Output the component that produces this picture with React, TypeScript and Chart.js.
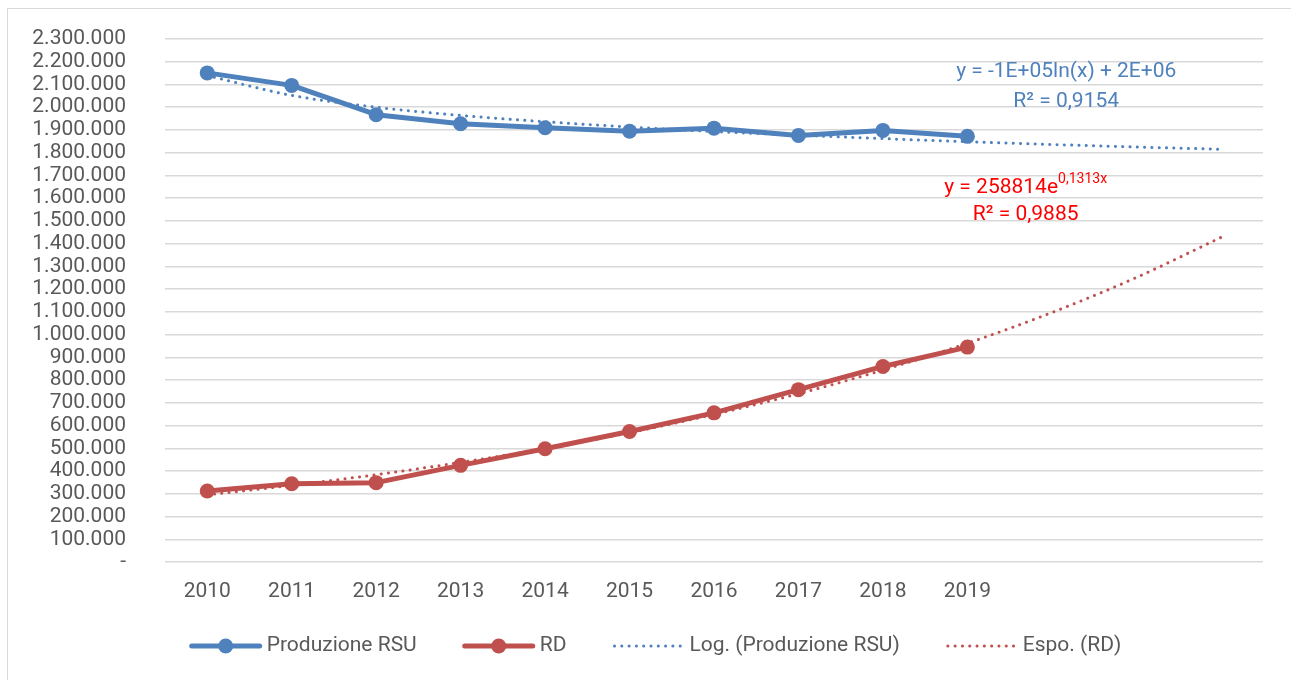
import React, { useEffect, useRef } from 'react';
import { Chart, registerables } from 'chart.js';

Chart.register(...registerables);

// ---------- data ----------
const categories = ['2010', '2011', '2012', '2013', '2014', '2015', '2016', '2017', '2018', '2019', '', '', ''];
const produzioneRSU = [2151000, 2096000, 1967000, 1927000, 1910000, 1894000, 1908000, 1876000, 1898000, 1872000];
const rd = [312000, 344000, 349000, 425000, 498000, 574000, 656000, 758000, 860000, 945000];
// trend lines (Excel forecast 3 periods forward)
const logTrend = [2139000, 2052000, 2000000, 1964000, 1936000, 1913000, 1893000, 1877000, 1862000, 1848000, 1836000, 1825000, 1815000];
const expTrend = [295000, 337000, 384000, 438000, 499000, 569000, 649000, 740000, 844000, 962000, 1097000, 1251000, 1427000];
const seriesLabels = ['Produzione RSU', 'RD', 'Log. (Produzione RSU)', 'Espo. (RD)'];
const yMax = 2300000;
const yStep = 100000;
const logEquation = 'y = -1E+05ln(x) + 2E+06';
const logR2 = 'R² = 0,9154';
const expEquationBase = 'y = 258814e';
const expEquationExp = '0,1313x';
const expR2 = 'R² = 0,9885';

// ---------- styles ----------
const BLUE = '#4F81BD';
const RED = '#C0504D';
const EQ_RED = '#FF0000';
const TEXT = '#595959';
const GRID = '#d9d9d9';
const FONT = 'Roboto';
const FS = 21;

function fmt(v: number): string {
  if (v === 0) return '-';
  return String(Math.round(v)).replace(/\B(?=(\d{3})+(?!\d))/g, '.');
}

const legendPlugin = {
  id: 'xlLegend',
  afterDraw(chart: any) {
    const ctx = chart.ctx as CanvasRenderingContext2D;
    ctx.save();
    ctx.font = `${FS}px ${FONT}`;
    const sampleW = 72;
    const gapST = 5;
    const itemGap = 46;
    const items = chart.data.datasets.map((ds: any) => ({
      ds,
      w: sampleW + gapST + ctx.measureText(ds.label).width,
    }));
    const total = items.reduce((a: number, b: any) => a + b.w, 0) + itemGap * (items.length - 1);
    let x = (chart.width - total) / 2 + 6;
    const y = chart.height - 34;
    items.forEach(({ ds, w }: any) => {
      ctx.strokeStyle = ds.borderColor;
      ctx.lineWidth = ds.borderWidth;
      ctx.lineCap = 'round';
      ctx.setLineDash(ds.borderDash ? ds.borderDash : []);
      ctx.beginPath();
      ctx.moveTo(x + 2, y);
      ctx.lineTo(x + sampleW - 2, y);
      ctx.stroke();
      ctx.setLineDash([]);
      if (ds.pointRadius > 0) {
        ctx.fillStyle = ds.borderColor;
        ctx.beginPath();
        ctx.arc(x + sampleW / 2, y, ds.pointRadius, 0, Math.PI * 2);
        ctx.fill();
      }
      ctx.fillStyle = TEXT;
      ctx.textBaseline = 'middle';
      ctx.textAlign = 'left';
      ctx.fillText(ds.label, x + sampleW + gapST, y);
      x += w + itemGap;
    });
    ctx.restore();
  },
};

const equationPlugin = {
  id: 'trendEquations',
  afterDatasetsDraw(chart: any) {
    const ctx = chart.ctx as CanvasRenderingContext2D;
    const xs = chart.scales.x;
    const ys = chart.scales.y;
    ctx.save();
    ctx.textBaseline = 'middle';
    ctx.textAlign = 'center';
    ctx.font = `${FS}px ${FONT}`;
    ctx.fillStyle = BLUE;
    ctx.fillText(logEquation, xs.getPixelForValue(10.17), ys.getPixelForValue(2155000));
    ctx.fillText(logR2, xs.getPixelForValue(10.17), ys.getPixelForValue(2023000));

    ctx.fillStyle = EQ_RED;
    const cx = xs.getPixelForValue(9.69);
    const cy = ys.getPixelForValue(1645000);
    ctx.font = `${FS}px ${FONT}`;
    const w1 = ctx.measureText(expEquationBase).width;
    ctx.font = `14px ${FONT}`;
    const w2 = ctx.measureText(expEquationExp).width;
    const start = cx - (w1 + w2) / 2;
    ctx.textAlign = 'left';
    ctx.font = `${FS}px ${FONT}`;
    ctx.fillText(expEquationBase, start, cy);
    ctx.font = `14px ${FONT}`;
    ctx.fillText(expEquationExp, start + w1, cy - 8);
    ctx.textAlign = 'center';
    ctx.font = `${FS}px ${FONT}`;
    ctx.fillText(expR2, cx, ys.getPixelForValue(1526000));
    ctx.restore();
  },
};

export default function App() {
  const canvasRef = useRef<HTMLCanvasElement | null>(null);

  useEffect(() => {
    document.body.style.margin = '0';
    document.body.style.overflow = 'hidden';
    const canvas = canvasRef.current;
    if (!canvas) return;
    const chart = new Chart(canvas, {
      type: 'line',
      data: {
        labels: categories,
        datasets: [
          {
            label: seriesLabels[0],
            data: produzioneRSU,
            borderColor: BLUE,
            backgroundColor: BLUE,
            borderWidth: 5,
            pointRadius: 7.5,
            pointBackgroundColor: BLUE,
            pointBorderWidth: 0,
            borderJoinStyle: 'round',
            tension: 0,
            order: 1,
          },
          {
            label: seriesLabels[1],
            data: rd,
            borderColor: RED,
            backgroundColor: RED,
            borderWidth: 5,
            pointRadius: 7.5,
            pointBackgroundColor: RED,
            pointBorderWidth: 0,
            borderJoinStyle: 'round',
            tension: 0,
            order: 1,
          },
          {
            label: seriesLabels[2],
            data: logTrend,
            borderColor: BLUE,
            borderWidth: 3,
            borderDash: [0.1, 7.2],
            borderCapStyle: 'round',
            pointRadius: 0,
            cubicInterpolationMode: 'monotone',
            order: 0,
          },
          {
            label: seriesLabels[3],
            data: expTrend,
            borderColor: RED,
            borderWidth: 3,
            borderDash: [0.1, 7.2],
            borderCapStyle: 'round',
            pointRadius: 0,
            cubicInterpolationMode: 'monotone',
            order: 0,
          },
        ] as any,
      },
      options: {
        animation: false,
        responsive: true,
        maintainAspectRatio: false,
        layout: { padding: { top: 30, right: 28, bottom: 76, left: 0 } },
        plugins: {
          legend: { display: false },
          tooltip: { enabled: false },
        },
        scales: {
          x: {
            type: 'category',
            offset: true,
            grid: { display: false, drawTicks: false, tickLength: 0 },
            border: { display: false },
            ticks: {
              color: TEXT,
              font: { family: FONT, size: FS },
              padding: 17,
              maxRotation: 0,
              autoSkip: false,
            },
            afterFit(scale: any) {
              scale.height = 42;
            },
          },
          y: {
            min: 0,
            max: yMax,
            grid: { color: GRID, lineWidth: 1.5, drawTicks: false, tickLength: 0 },
            border: { display: false },
            ticks: {
              stepSize: yStep,
              color: TEXT,
              font: { family: FONT, size: FS },
              padding: 39,
              callback: (v: any) => fmt(Number(v)),
              autoSkip: false,
            },
            afterFit(scale: any) {
              scale.width = 157;
              scale.paddingTop = 0;
              scale.paddingBottom = 0;
            },
          },
        },
      },
      plugins: [equationPlugin, legendPlugin],
    });
    return () => chart.destroy();
  }, []);

  return (
    <div
      style={{
        position: 'absolute',
        left: 7,
        top: 8,
        width: 1284,
        height: 672,
        borderLeft: `1px solid ${GRID}`,
        borderTop: `1px solid ${GRID}`,
        boxSizing: 'border-box',
        background: '#fff',
      }}
    >
      <canvas ref={canvasRef} style={{ display: 'block' }} />
    </div>
  );
}
